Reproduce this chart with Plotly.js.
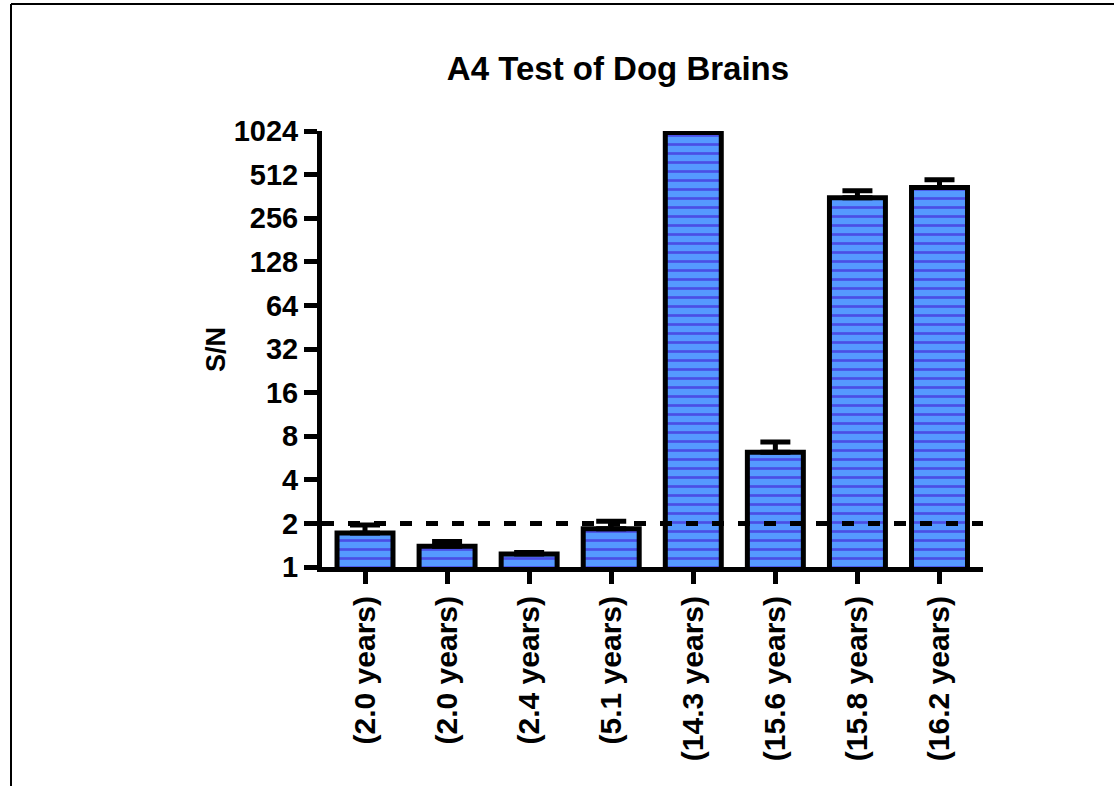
<!DOCTYPE html>
<html>
<head>
<meta charset="utf-8">
<script src="https://cdn.plot.ly/plotly-3.0.1.min.js"></script>
<style>html,body{margin:0;padding:0;background:#fff;}#chart{width:1114px;height:786px;}</style>
</head>
<body>
<div id="chart"></div>
<script>
// ---- data ----
const categories = ["(2.0 years)", "(2.0 years)", "(2.4 years)", "(5.1 years)", "(14.3 years)", "(15.6 years)", "(15.8 years)", "(16.2 years)"];
const snValues = [1.72, 1.39, 1.23, 1.84, 1000, 6.2, 355, 417];
const snErrorUpper = [0.23, 0.11, 0.03, 0.23, 24, 1.1, 41, 55];
const yTickValues = [1, 2, 4, 8, 16, 32, 64, 128, 256, 512, 1024];
const yTickLabels = ["1", "2", "4", "8", "16", "32", "64", "128", "256", "512", "1024"];
const cutoff = 2;
const chartTitle = "A4 Test of Dog Brains";
const yTitle = "S/N";

// ---- layout geometry ----
const W = 1114, H = 786;
const M = {l: 322, r: 131, t: 131, b: 219};
const plotW = W - M.l - M.r, plotH = H - M.t - M.b;
const px2x = p => (p - M.l) / plotW;
const py2y = p => (H - M.b - p) / plotH;

const xIdx = categories.map((_, i) => i);
const yTickFont = {family: "Liberation Sans, Arial, sans-serif", size: 29, color: "#000", weight: "bold"};
const xTickFont = {family: "Liberation Sans, Arial, sans-serif", size: 30, color: "#000", weight: "bold"};

const trace = {
  type: "bar",
  x: xIdx,
  y: snValues,
  marker: {
    color: "#5599ff",
    line: {color: "#000", width: 5},
    pattern: {shape: "-", size: 9, solidity: 0.3, fgcolor: "#4a4ee6", bgcolor: "#5599ff", fillmode: "replace"}
  },
  error_y: {
    type: "data",
    symmetric: false,
    array: snErrorUpper,
    arrayminus: snErrorUpper.map(() => 0),
    color: "#000",
    thickness: 5,
    width: 15
  },
  hoverinfo: "skip"
};

const layout = {
  width: W, height: H,
  margin: M,
  paper_bgcolor: "#fff",
  plot_bgcolor: "#fff",
  showlegend: false,
  bargap: 0.318,
  title: {
    text: chartTitle,
    font: {family: "Liberation Sans, Arial, sans-serif", size: 33, color: "#000", weight: "bold"},
    xref: "paper", x: px2x(618), xanchor: "center",
    yref: "container", y: 1 - 68 / H, yanchor: "middle"
  },
  xaxis: {
    range: [-0.524, 7.53],
    tickvals: xIdx,
    ticktext: categories,
    tickangle: -90,
    tickfont: xTickFont,
    showline: true, linecolor: "#000", linewidth: 5,
    ticks: "outside", ticklen: 12, tickwidth: 5, tickcolor: "#000",
    showgrid: false, zeroline: false, fixedrange: true
  },
  yaxis: {
    type: "log",
    range: [0, Math.log10(1024)],
    tickvals: yTickValues,
    ticktext: yTickLabels,
    tickfont: yTickFont,
    showline: true, linecolor: "#000", linewidth: 5,
    ticks: "outside", ticklen: 13, tickwidth: 5, tickcolor: "#000",
    showgrid: false, zeroline: false, fixedrange: true
  },
  annotations: [{
    text: yTitle, textangle: -90,
    xref: "paper", yref: "paper",
    x: px2x(216), y: py2y(350),
    xanchor: "center", yanchor: "middle",
    showarrow: false,
    font: {family: "Liberation Sans, Arial, sans-serif", size: 27, color: "#000", weight: "bold"}
  }],
  shapes: [
    {type: "line", xref: "paper", yref: "y", x0: 0, x1: 1, y0: cutoff, y1: cutoff,
     line: {color: "#000", width: 5, dash: "12px,14px"}},
    {type: "line", xref: "paper", yref: "paper", x0: px2x(11), x1: px2x(W), y0: py2y(4), y1: py2y(4),
     line: {color: "#000", width: 2}},
    {type: "line", xref: "paper", yref: "paper", x0: px2x(11), x1: px2x(11), y0: py2y(4), y1: py2y(H),
     line: {color: "#000", width: 2}}
  ]
};

Plotly.newPlot("chart", [trace], layout, {displayModeBar: false, staticPlot: true});
</script>
</body>
</html>
